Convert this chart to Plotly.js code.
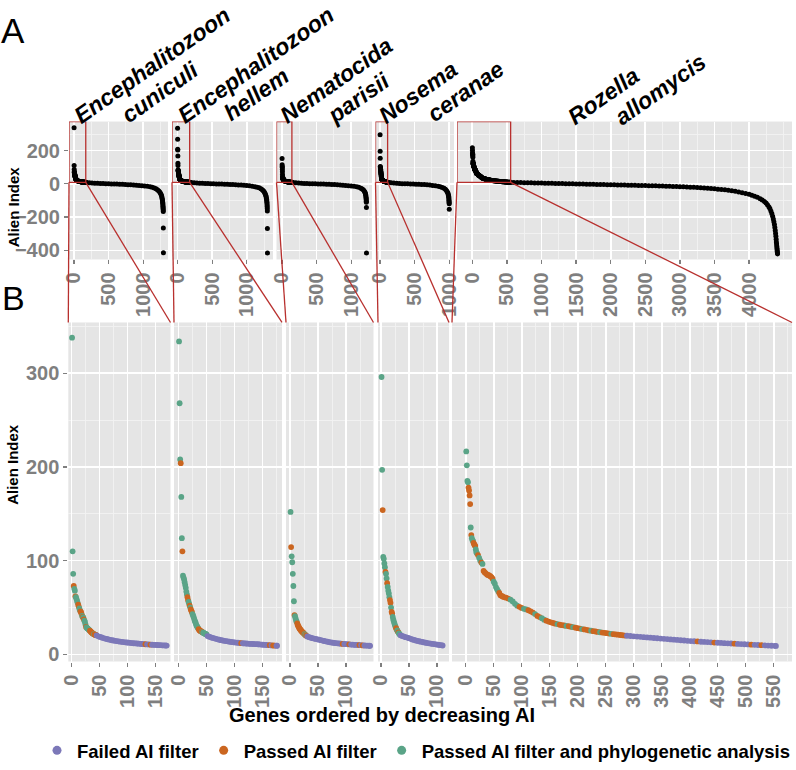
<!DOCTYPE html>
<html><head><meta charset="utf-8">
<script src="https://cdn.plot.ly/plotly-3.0.1.min.js"></script>
<style>html,body{margin:0;padding:0;background:#fff}#chart{width:796px;height:770px}</style>
</head><body><div id="chart"></div>
<script>
// ---------------- DATA ----------------
const speciesLine1 = ['Encephalitozoon','Encephalitozoon','Nematocida','Nosema','Rozella'];
const speciesLine2 = ['cuniculi','hellem','parisii','ceranae','allomycis'];
const legendNames = ['Failed AI filter','Passed AI filter','Passed AI filter and phylogenetic analysis'];
const classCodes = ['F','P','G'];

// Encephalitozoon cuniculi - zoomed genes (panel B)
const ecuRank = [1,2,3,4,5,6,7,8,9,10,11,12,13,14,15,16,17,18,19,20,21,22,23,24,25,26,27,28,29,30,31,32,33,34,35,36,37,38,39,40,41,42,43,44,45,
  48,51,54,57,60,63,66,69,72,75,78,81,84,87,90,93,96,99,102,105,108,111,114,117,120,123,126,129,132,135,138,141,144,147,150,153,156,159,162,165,168,170];
const ecuAI = [338,110,86,73,70,68,62,61,59,57,55,53,51,49,47,46,45,43,41,40,39.5,37.4,36,34.6,32,29.3,28.7,28,27.5,27,26.4,25.8,25.2,24.6,24,23.4,22.8,22.2,21.9,21.6,21.2,21,20.7,20.5,20.2,
  19.3,18.6,18,17.4,16.9,16.4,16,15.5,15.1,14.8,14.5,14.2,13.9,13.6,13.4,13.1,12.9,12.7,12.5,12.3,12.1,11.9,11.8,11.6,11.4,11.3,11.1,11,10.8,10.7,10.6,10.4,10.3,10.2,10.1,10,9.9,9.8,9.7,9.6,9.5,9.4];
const ecuClass = ('GGGPGGPGGG'+'GPPGGPPPGP'+'GPGGGPGGGG'+'GGPPPPPPPG'+'PPPPF'+'FFFFFFFFFFFFFFFFFFFFFFFFFFFF'+'P'+'FF'+'P'+'FFFFFFFFFF').split('');
// Encephalitozoon cuniculi - remaining genes (panel A)
const ecuTailRank = [180,220,260,300,340,380,420,460,500,540,580,620,660,700,740,780,820,860,900,940,980,1020,1060,1100,1130,1160,1185,1205,1222,1236,1248,1257,1264,1269,1273,1276,1279,1281,1283,1285,1286,1287,1288,1289,1290,1291,1292];
const ecuTailAI = [8.5,6.5,5,4,3,2,1.5,1,0,-0.5,-1,-1.5,-2.5,-3,-4,-5,-6,-7,-8,-9.5,-11,-13,-15,-18,-21,-25,-30,-35,-41,-48,-55,-62,-70,-78,-86,-94,-102,-110,-118,-126,-134,-142,-150,-158,-166,-265,-415];

// Encephalitozoon hellem
const eheRank = [1,2,3,4,5,6,7,8,9,10,11,12,13,14,15,16,17,18,19,20,21,22,23,24,25,26,27,28,29,30,31,32,33,34,35,36,37,38,39,40,41,42,43,44,45,46,47,48,49,50,
  52,55,58,61,64,67,70,73,76,79,82,85,88,91,94,97,100,103,106,109,112,115,118,121,124,127,130,133,136,139,142,145,148,151,154,157,160,163,166,169,172,175,176];
const eheAI = [334,268,208,204,168,124,110,84,82,80,77,74,71,67,64,61,58,56,54,52,50,48,46.5,45,43,41.5,40,38,36,34.6,33,31,30,29,28,27,26,25.5,25,24.7,24.3,24,23.6,23.2,22.8,22.5,22.2,21.8,21.5,21.2,
  19.5,18.8,18.2,17.6,17.1,16.6,16.1,15.6,15.2,14.8,14.5,14.2,13.9,13.6,13.3,13,12.8,12.6,12.4,12.2,12,11.9,11.7,11.6,11.4,11.3,11.2,11.1,11,10.9,10.8,10.6,10.5,10.3,10.2,10,9.9,9.8,9.6,9.5,9.4,9.3,9.2];
const eheClass = ('GGGPGGPGGG'+'GGGGGPPGGP'+'GPPPGGGGGG'+'GGGGGPPPPP'+'PGPGGGGGGG'+'FFFFFFFFFFFFFFFFFFFF'+'P'+'FFFFFFFFFFFFFFFF'+'P'+'F'+'PP'+'FF').split('');
const eheTailRank = [200,240,280,320,360,400,440,480,520,560,600,640,680,720,760,800,840,880,920,960,1000,1040,1080,1120,1150,1180,1205,1225,1240,1252,1262,1270,1276,1281,1285,1288,1290,1292,1294,1295,1296,1297,1298,1299,1300];
const eheTailAI = [8.5,6.5,5,4,3,2,1.5,1,0,-0.5,-1,-1.5,-2,-3,-3.5,-4.5,-5.5,-6.5,-7.5,-9,-10.5,-12,-14,-17,-20,-24,-29,-35,-41,-48,-55,-62,-70,-78,-86,-94,-102,-110,-120,-130,-140,-150,-163,-268,-416];

// Nematocida parisii
const npaRank = [1,2,3,4,5,6,7,8,9,10,11,12,13,14,15,16,17,18,19,20,21,22,23,24,25,26,27,28,29,
  31,34,37,40,43,46,49,52,55,58,61,64,67,70,73,76,79,82,85,88,91,94,97,100,103,106,109,112,115,118,121,124,127,130,133,136,139,142,143];
const npaAI = [152,114.5,104.6,98.3,86,73,56.7,42,40.8,38.3,36,34.8,33,31.2,30,28.8,27.7,26.8,26,25.3,24.6,24,23.4,22.8,22.2,21.6,21,20.5,20,
  19.2,18.4,17.8,17.3,16.9,16.5,16.1,15.7,15.2,14.7,14.3,13.9,13.5,13.1,12.8,12.5,12.2,12,11.8,11.6,11.4,11.2,11.1,11,10.8,10.7,10.5,10.4,10.2,10.1,10,9.9,9.8,9.6,9.5,9.4,9.3,9.2,9.1];
const npaClass = ('GPGGGGGPGG'+'GGPPPPPPPP'+'PPPPPGPGP'+'FFFFFFFFFFFFFFFFFFFFF'+'P'+'FFF'+'P'+'FFFFF'+'P'+'F'+'P'+'FFFFF').split('');
const npaTailRank = [160,200,240,280,320,360,400,440,480,520,560,600,640,680,720,760,800,840,880,920,960,1000,1040,1080,1110,1140,1160,1178,1190,1199,1205,1209,1212,1214,1216,1217,1218,1219,1220,1221];
const npaTailAI = [8,6,4.5,3.5,2.5,1.5,1,0.5,0,-0.5,-1,-1.5,-2,-3,-3.5,-4.5,-5.5,-6.5,-8,-9.5,-11,-13,-15,-18,-21,-26,-31,-37,-44,-51,-58,-65,-72,-80,-88,-96,-104,-110,-143,-416];

// Nosema ceranae
const nceRank = [1,2,3,4,5,6,7,8,9,10,11,12,13,14,15,16,17,18,19,20,21,22,23,24,25,26,27,28,29,30,31,32,33,34,35,
  38,41,44,47,50,53,56,59,62,65,68,71,74,77,80,83,86,89,92,95,98,101,104,107,110];
const nceAI = [296,197,154,104,102,97,93,88,86,81,76,72,68,65,61,58,55,50,45.4,43.6,40,37,35,33,31,29.5,28,26.5,25.5,24.5,23.5,22.5,21.8,21,20.3,
  19.6,19,18.4,17.9,17.3,16.6,16,15.4,14.9,14.4,14,13.6,13.2,12.8,12.4,12.1,11.8,11.5,11.2,11,10.7,10.4,10.1,9.8,9.5];
const nceClass = ('GGPGGGGPGG'+'PGGGGPPGPP'+'GGGGGGPPGG'+'PGGGF'+'FFFFFFFFFFFFFFFFFFFFFFFFF').split('');
const nceTailRank = [130,160,200,240,280,320,360,400,440,480,520,560,600,640,680,720,760,800,840,870,900,925,945,960,971,979,985,989,992,994,996,997,998,999,1000,1001];
const nceTailAI = [8,6,4.5,3,2,1,0.5,0,-0.5,-1,-2,-2.5,-3.5,-4.5,-6,-7.5,-9.5,-12,-15,-18,-22,-27,-33,-40,-47,-54,-61,-68,-75,-82,-90,-98,-106,-113,-120,-153];

// Rozella allomycis
const ralRank = [1,2,3,4,5,6,7,8,9,10,11,12,13,14,15,16,17,18,19,20,
  22,24,26,28,30,32,34,36,38,40,42,44,46,48,50,52,54,56,58,60,62,64,66,68,
  72,76,80,84,88,92,96,100,104,108,112,116,120,124,128,132,136,140,144,148,152,156,160,164,168,172,176,180,184,188,192,196,200,204,208,212,216,220,224,228,232,236,240,244,248,252,256,260,264,268,272,276,280,284,
  288,294,300,306,312,318,324,330,336,342,348,354,360,366,372,378,384,390,396,402,408,414,420,426,432,438,444,450,456,462,468,474,480,486,492,498,504,510,516,522,528,534,540,546,552,554];
const ralAI = [216.6,201.8,185,183.7,178,175,169.6,160.4,135.4,127.3,124,122,121,119,117.7,116.5,115.9,112,109,108,
  106,103,100,98,96.5,89,87.5,86.5,85.2,84.8,84.2,83.5,82.5,80.7,77.5,75.4,71.8,69.5,67.5,65.5,63,62.5,61.8,61.2,
  60.5,59.6,58.3,56.5,54,52,50.8,49.6,48.6,48,47.1,46,44.6,43,41,39.8,38.6,37,36,35,34.2,33.5,32.8,32.3,31.6,31.2,30.8,30.4,30,29.5,29,28.5,28,27.5,27,26.6,26.2,25.6,25.2,24.8,24.4,24,23.6,23.3,23,22.6,22.2,21.9,21.6,21.3,21,20.7,20.4,20.1,
  19.9,19.6,19.3,19,18.7,18.4,18.1,17.8,17.5,17.2,16.9,16.6,16.3,16,15.7,15.4,15.1,14.8,14.5,14.2,14,13.8,13.5,13.3,13.1,12.9,12.6,12.4,12.2,12,11.8,11.6,11.4,11.2,11,10.8,10.6,10.4,10.2,10,9.8,9.6,9.4,9.2,9.1,9.0];
const ralClass = ('GGGGPPPPGP'+'GGGPPPPGGG'+'PGGPGPPPPP'+'PPPPGGGGGP'+'PPPP'+
  'PPGGGGPPGG'+'PPPGPPGGPP'+'PPPGPPPGPP'+'GPPPGPPPGP'+'PPGPPPPGPP'+'PPPP'+
  'FFFFFFFFFFFFFFFFFFFFF'+'P'+'FFFF'+'P'+'FFFFF'+'P'+'FFFF'+'P'+'FF'+'P'+'FFFFF').split('');
const ralTailRank = [600,650,700,750,800,850,900,950,1000,1050,1100,1150,1200,1250,1300,1350,1400,1450,1500,1550,1600,1650,1700,1750,1800,1850,1900,1950,2000,2050,2100,2150,2200,2250,2300,2350,2400,2450,2500,2550,2600,2650,2700,2750,2800,2850,2900,2950,3000,3050,3100,3150,3200,3250,3300,3350,3400,3450,3500,3550,3600,3650,3700,3750,3800,3850,3900,3950,4000,
  4040,4080,4120,4160,4190,4220,4245,4265,4285,4300,4315,4328,4340,4350,4358,4366,4372,4378,4383,4387,4391,4394,4397,4400,4403,4405,4407,4409,4411];
const ralTailAI = [8.5,8,7.5,7,6.5,6,5.5,5,4.5,4,3.5,3,2.5,2,1.5,1,0.5,0,-0.5,-1,-1.5,-2,-2.5,-3,-3.5,-4,-4.5,-5,-5.5,-6,-6.5,-7,-7.5,-8,-8.5,-9,-9.5,-10,-10.5,-11,-11.5,-12,-13,-13.5,-14,-15,-15.5,-16.5,-17,-18,-19,-20,-21,-22,-23.5,-25,-26.5,-28,-30,-32,-34,-36,-39,-42,-45,-49,-53,-58,-63,
  -68,-74,-81,-89,-97,-106,-115,-125,-137,-149,-163,-178,-195,-212,-228,-245,-262,-280,-298,-316,-334,-350,-362,-375,-388,-398,-407,-415,-422];

const topTicks = [[0,500,1000],[0,500,1000],[0,500,1000],[0,500,1000],[0,500,1000,1500,2000,2500,3000,3500,4000]];
const botTicks = [[0,50,100,150],[0,50,100,150],[0,50,100],[0,50,100],[0,50,100,150,200,250,300,350,400,450,500,550]];
const topYTicks = [-400,-200,0,200];
const botYTicks = [0,100,200,300];

// ---------------- LAYOUT GEOMETRY (pixels) ----------------
const W = 796, H = 770;
const FONT = 'Liberation Sans, Arial, Helvetica, sans-serif';
const TICKGREY = '#7F7F7F';
const RED = '#B8302E';
const classColor = {F: '#7C78B8', P: '#CB6620', G: '#5AA487'};
const legendColor = ['#7C78B8', '#CB6620', '#5AA487'];
const topYpx = [122.5, 261.5], botYpx = [325, 666.7];
const topYRange = [-455, 375], botYRange = [-7.6, 354.2];
const topK = 0.0692, botK = 0.56;
const topPx = [[69,168,74],[172,273,177.5],[276.5,372,282],[375.5,454,380],[457,792,472.3]];
const botPx = [[68.3,170.5,71.5],[174,282,178.5],[286,373.5,290],[378,449,381],[452,792,465.7]];
const titleCenters = [
  [[152.3,65.5],[160,92.5]],
  [[255.8,65.8],[256.7,95]],
  [[336.7,80.8],[358.3,99.2]],
  [[418.3,92.5],[465.8,91.7]],
  [[603.3,96.7],[660.8,90]]
];

const sets = [
  {r: ecuRank, a: ecuAI, c: ecuClass, tr: ecuTailRank, ta: ecuTailAI},
  {r: eheRank, a: eheAI, c: eheClass, tr: eheTailRank, ta: eheTailAI},
  {r: npaRank, a: npaAI, c: npaClass, tr: npaTailRank, ta: npaTailAI},
  {r: nceRank, a: nceAI, c: nceClass, tr: nceTailRank, ta: nceTailAI},
  {r: ralRank, a: ralAI, c: ralClass, tr: ralTailRank, ta: ralTailAI}
];

const traces = [];
const layout = {
  width: W, height: H, margin: {l:0, r:0, t:0, b:0},
  paper_bgcolor: '#ffffff', plot_bgcolor: '#E5E5E5',
  hovermode: false, showlegend: true,
  font: {family: FONT},
  annotations: [], shapes: [],
  legend: {orientation: 'h', x: 42/W, y: 1 - 756.7/H, xanchor: 'left', yanchor: 'middle',
    font: {family: FONT, size: 18.5, color: '#000', weight: 'bold'}, bgcolor: 'rgba(0,0,0,0)', itemwidth: 30, traceorder: 'normal'}
};
const sfx = n => (n === 1 ? '' : String(n));

function axisBase(domain, range, tickvals, showLabels, minorDtick, isX) {
  return {
    domain: domain, range: range, tickmode: 'array', tickvals: tickvals,
    showticklabels: showLabels, ticks: showLabels ? 'outside' : '', ticklen: 4, tickwidth: 1.2, tickcolor: TICKGREY,
    tickangle: isX ? -90 : 0,
    tickfont: {family: FONT, size: 20, color: TICKGREY, weight: 'bold'},
    showgrid: true, gridcolor: '#FFFFFF', gridwidth: 1.6, zeroline: false, showline: false,
    minor: {tickmode: 'linear', tick0: 0, dtick: minorDtick, showgrid: true, gridcolor: '#F2F2F2', gridwidth: 0.9, ticks: ''},
    fixedrange: true
  };
}

const topYDom = [1 - topYpx[1]/H, 1 - topYpx[0]/H];
const botYDom = [1 - botYpx[1]/H, 1 - botYpx[0]/H];

sets.forEach((s, i) => {
  const nT = i + 1, nB = i + 6;
  // top panel
  const tp = topPx[i];
  const tRange = [(tp[0]-tp[2])/topK, (tp[1]-tp[2])/topK];
  layout['xaxis'+sfx(nT)] = Object.assign(axisBase([tp[0]/W, tp[1]/W], tRange, topTicks[i], true, 250, true), {anchor: 'y'+sfx(nT)});
  layout['yaxis'+sfx(nT)] = Object.assign(axisBase(topYDom, topYRange, topYTicks, i === 0, 100, false), {anchor: 'x'+sfx(nT)});
  traces.push({type: 'scatter', mode: 'markers', x: s.r.concat(s.tr), y: s.a.concat(s.ta),
    xaxis: 'x'+sfx(nT), yaxis: 'y'+sfx(nT), showlegend: false,
    marker: {size: 5, color: '#000000', line: {width: 0}}});
  // bottom panel
  const bp = botPx[i];
  const bRange = [(bp[0]-bp[2])/botK, (bp[1]-bp[2])/botK];
  layout['xaxis'+nB] = Object.assign(axisBase([bp[0]/W, bp[1]/W], bRange, botTicks[i], true, 25, true), {anchor: 'y'+nB});
  layout['yaxis'+nB] = Object.assign(axisBase(botYDom, botYRange, botYTicks, i === 0, 50, false), {anchor: 'x'+nB});
  traces.push({type: 'scatter', mode: 'markers', x: s.r, y: s.a,
    xaxis: 'x'+nB, yaxis: 'y'+nB, showlegend: false,
    marker: {size: 5.8, color: s.c.map(c => classColor[c]), line: {width: 0}}});

  // red zoom box and connector lines
  const maxR = Math.max(...s.r), minA = Math.min(...s.a);
  layout.shapes.push({type: 'rect', xref: 'x'+sfx(nT), yref: 'y'+sfx(nT), x0: tRange[0], x1: maxR, y0: minA, y1: topYRange[1],
    line: {color: RED, width: 1.3}, fillcolor: 'rgba(0,0,0,0)', layer: 'above'});
  const boxBottomPy = topYpx[0] + (topYRange[1]-minA)/(topYRange[1]-topYRange[0])*(topYpx[1]-topYpx[0]);
  const boxRightPx = tp[2] + maxR*topK;
  layout.shapes.push({type: 'line', xref: 'paper', yref: 'paper', x0: tp[0]/W, y0: 1-boxBottomPy/H, x1: bp[0]/W, y1: 1-botYpx[0]/H, line: {color: RED, width: 1.3}, layer: 'above'});
  layout.shapes.push({type: 'line', xref: 'paper', yref: 'paper', x0: boxRightPx/W, y0: 1-boxBottomPy/H, x1: bp[1]/W, y1: 1-botYpx[0]/H, line: {color: RED, width: 1.3}, layer: 'above'});

  // species titles (two lines, rotated)
  [speciesLine1[i], speciesLine2[i]].forEach((t, j) => {
    const c = titleCenters[i][j];
    layout.annotations.push({xref: 'paper', yref: 'paper', x: c[0]/W, y: 1-c[1]/H, xanchor: 'center', yanchor: 'middle',
      text: '<b><i>'+t+'</i></b>', textangle: -35, showarrow: false, font: {family: FONT, size: 23, color: '#000'}});
  });
});

// legend traces (no points drawn)
legendNames.forEach((name, k) => {
  traces.push({type: 'scatter', mode: 'markers', x: [null], y: [null], xaxis: 'x10', yaxis: 'y10', name: name,
    showlegend: true, marker: {size: 9, color: legendColor[k], line: {width: 0}}});
});

const ann = (x, y, text, size, angle, bold) => layout.annotations.push({xref: 'paper', yref: 'paper', x: x/W, y: 1-y/H,
  xanchor: 'center', yanchor: 'middle', text: bold ? '<b>'+text+'</b>' : text, textangle: angle, showarrow: false,
  font: {family: FONT, size: size, color: '#000'}});
ann(13.3, 30.8, 'A', 35, 0, false);
ann(13.3, 300, 'B', 34, 0, false);
ann(13, 209, 'Alien Index', 15, -90, true);
ann(12.5, 468, 'Alien Index', 15, -90, true);
ann(381.5, 721, 'Genes ordered by decreasing AI', 20, 0, true);

Plotly.newPlot('chart', traces, layout, {displayModeBar: false, staticPlot: true});
</script></body></html>
